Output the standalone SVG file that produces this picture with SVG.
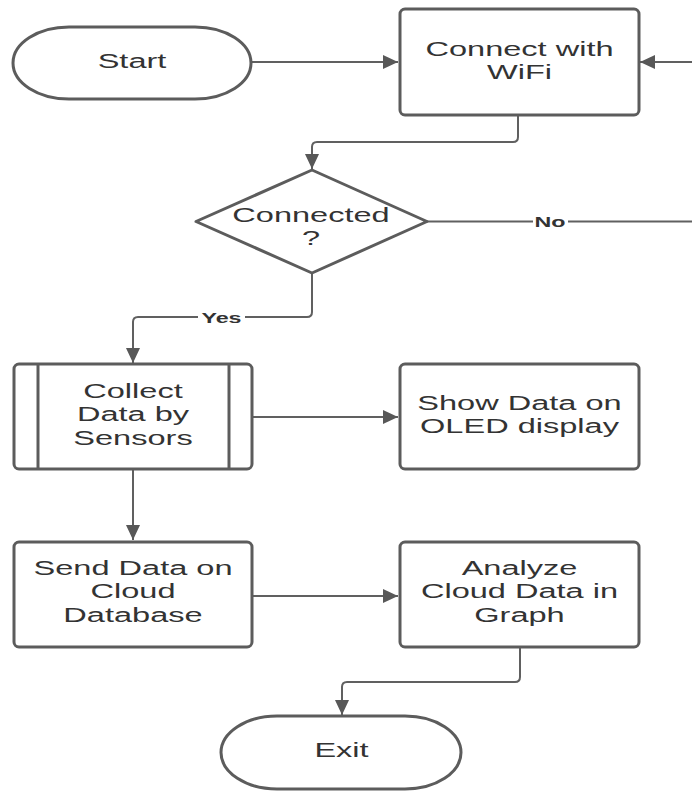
<svg xmlns="http://www.w3.org/2000/svg" width="692" height="792" viewBox="0 0 692 792">
  <style>
    .shape { fill: #ffffff; stroke: #5c5c5c; stroke-width: 3; }
    .inner { fill: none; stroke: #5c5c5c; stroke-width: 3; }
    .conn { fill: none; stroke: #606060; stroke-width: 2; stroke-linejoin: round; }
    .label { font-family: "Liberation Sans", Arial, sans-serif; font-size: 21px; fill: #333333; text-anchor: middle; }
    .edge { font-family: "Liberation Sans", Arial, sans-serif; font-size: 15px; font-weight: bold; fill: #333333; text-anchor: middle; }
  </style>
  <defs>
    <marker id="arrow" markerUnits="userSpaceOnUse" markerWidth="16" markerHeight="14" refX="15" refY="7" orient="auto">
      <path d="M0,0 L15,7 L0,14 Z" fill="#585858"/>
    </marker>
  </defs>
  <rect width="692" height="792" fill="#ffffff"/>

  <g id="connectors">
    <path class="conn" d="M251,62 L398,62" marker-end="url(#arrow)"/>
    <path class="conn" d="M518,115 L518,137 Q518,142 513,142 L317,142 Q312,142 312,147 L312,169" marker-end="url(#arrow)"/>
    <path class="conn" d="M427,221.5 L700,221.5 L700,62 L640,62" marker-end="url(#arrow)"/>
    <path class="conn" d="M312,273 L312,312 Q312,317 307,317 L138,317 Q133,317 133,322 L133,363" marker-end="url(#arrow)"/>
    <path class="conn" d="M252,417 L398,417" marker-end="url(#arrow)"/>
    <path class="conn" d="M133,469 L133,540" marker-end="url(#arrow)"/>
    <path class="conn" d="M252,596 L398,596" marker-end="url(#arrow)"/>
    <path class="conn" d="M520,647 L520,677 Q520,682 515,682 L347,682 Q342,682 342,687 L342,715" marker-end="url(#arrow)"/>
    <g id="label-no">
      <rect x="533" y="212" width="35" height="18" fill="#ffffff"/>
      <text class="edge" transform="translate(550,227) scale(1.55,1)" x="0" y="0">No</text>
    </g>
    <g id="label-yes">
      <rect x="198" y="308" width="47" height="18" fill="#ffffff"/>
      <text class="edge" transform="translate(221.5,323) scale(1.55,1)" x="0" y="0">Yes</text>
    </g>
  </g>

  <g id="start">
    <rect class="shape" x="13" y="27" width="238" height="72" rx="56" ry="36"/>
    <text class="label" transform="translate(132,0) scale(1.55,1)"><tspan x="0" y="68">Start</tspan></text>
  </g>

  <g id="connect-wifi">
    <rect class="shape" x="400" y="9" width="239" height="106" rx="5"/>
    <text class="label" transform="translate(519.5,0) scale(1.55,1)"><tspan x="0" y="56">Connect with</tspan><tspan x="0" y="79.5">WiFi</tspan></text>
  </g>

  <g id="connected">
    <path class="shape" d="M312,170 L427,221.5 L312,273 L196,221.5 Z" stroke-linejoin="round"/>
    <text class="label" transform="translate(311,0) scale(1.55,1)"><tspan x="0" y="222">Connected</tspan><tspan x="0" y="245.5">?</tspan></text>
  </g>

  <g id="collect">
    <rect class="shape" x="14" y="364" width="238" height="105" rx="5"/>
    <line class="inner" x1="38" y1="364" x2="38" y2="469"/>
    <line class="inner" x1="229" y1="364" x2="229" y2="469"/>
    <text class="label" transform="translate(133,0) scale(1.55,1)"><tspan x="0" y="398">Collect</tspan><tspan x="0" y="421.5">Data by</tspan><tspan x="0" y="445">Sensors</tspan></text>
  </g>

  <g id="show-oled">
    <rect class="shape" x="400" y="364" width="239" height="105" rx="5"/>
    <text class="label" transform="translate(519.5,0) scale(1.55,1)"><tspan x="0" y="410">Show Data on</tspan><tspan x="0" y="433.5">OLED display</tspan></text>
  </g>

  <g id="send-cloud">
    <rect class="shape" x="14" y="542" width="238" height="105" rx="5"/>
    <text class="label" transform="translate(133,0) scale(1.55,1)"><tspan x="0" y="575">Send Data on</tspan><tspan x="0" y="598.5">Cloud</tspan><tspan x="0" y="622">Database</tspan></text>
  </g>

  <g id="analyze">
    <rect class="shape" x="400" y="542" width="239" height="105" rx="5"/>
    <text class="label" transform="translate(519.5,0) scale(1.55,1)"><tspan x="0" y="575">Analyze</tspan><tspan x="0" y="598.5">Cloud Data in</tspan><tspan x="0" y="622">Graph</tspan></text>
  </g>

  <g id="exit">
    <rect class="shape" x="221" y="716" width="240" height="73" rx="56" ry="36.5"/>
    <text class="label" transform="translate(341.5,0) scale(1.55,1)"><tspan x="0" y="757.5">Exit</tspan></text>
  </g>
</svg>
